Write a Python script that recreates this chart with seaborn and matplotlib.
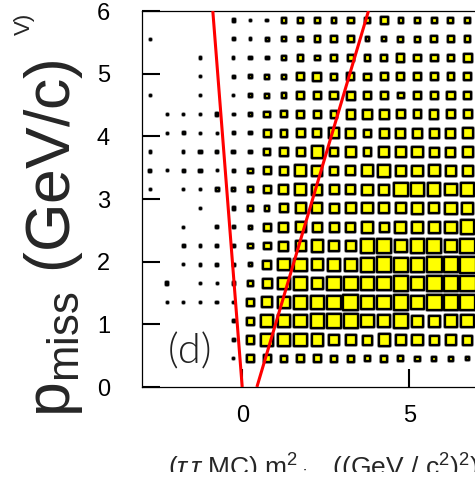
import matplotlib
matplotlib.use("Agg")
import matplotlib.pyplot as plt
from matplotlib.transforms import Bbox
import numpy as np
import pandas as pd
import seaborn as sns

# Bin centres of the 2-D histogram (m^2_miss in (GeV/c^2)^2, p_miss in GeV/c)
m2_centers = [-2.75, -2.25, -1.75, -1.25, -0.75, -0.25, 0.25, 0.75, 1.25, 1.75,
              2.25, 2.75, 3.25, 3.75, 4.25, 4.75, 5.25, 5.75, 6.25, 6.75]
p_centers = [5.85, 5.55, 5.25, 4.95, 4.65, 4.35, 4.05, 3.75, 3.45, 3.15,
             2.85, 2.55, 2.25, 1.95, 1.65, 1.35, 1.05, 0.75, 0.45]

# Bin contents, one row per p_miss bin (top to bottom), one column per m^2_miss bin
counts = [
    [0, 0, 0, 0, 4, 16, 12, 12, 36, 36, 36, 36, 49, 49, 64, 36, 42, 42, 42, 36],
    [9, 0, 0, 0, 4, 16, 12, 20, 36, 36, 49, 49, 49, 30, 30, 42, 42, 49, 49, 49],
    [0, 0, 0, 9, 0, 9, 20, 20, 36, 49, 36, 49, 49, 49, 56, 72, 64, 64, 64, 81],
    [0, 0, 0, 9, 6, 16, 20, 36, 36, 64, 81, 56, 64, 56, 64, 72, 72, 64, 64, 64],
    [9, 0, 0, 9, 0, 9, 20, 30, 36, 64, 64, 72, 81, 64, 64, 49, 64, 72, 72, 72],
    [0, 9, 9, 9, 16, 12, 20, 49, 56, 64, 64, 64, 90, 100, 100, 81, 81, 90, 81, 81],
    [0, 9, 16, 9, 9, 12, 16, 64, 64, 81, 81, 121, 100, 64, 100, 100, 100, 100, 100, 121],
    [9, 0, 9, 16, 16, 20, 20, 56, 81, 81, 144, 81, 121, 81, 121, 121, 121, 100, 100, 121],
    [16, 9, 16, 16, 9, 16, 36, 64, 81, 144, 121, 90, 100, 144, 169, 121, 121, 144, 121, 121],
    [9, 0, 9, 9, 20, 20, 42, 64, 100, 144, 121, 100, 100, 121, 121, 196, 196, 169, 144, 169],
    [0, 0, 0, 9, 0, 16, 36, 36, 81, 121, 121, 100, 121, 121, 121, 121, 144, 121, 144, 144],
    [0, 0, 9, 0, 12, 16, 20, 64, 100, 121, 100, 100, 100, 144, 100, 144, 144, 144, 144, 196],
    [0, 0, 12, 12, 12, 16, 36, 64, 100, 121, 144, 121, 121, 196, 196, 169, 196, 196, 169, 225],
    [0, 6, 9, 12, 12, 12, 25, 81, 144, 169, 144, 169, 169, 196, 225, 196, 196, 225, 225, 256],
    [0, 16, 0, 9, 9, 16, 49, 100, 144, 169, 144, 196, 196, 196, 196, 225, 196, 225, 225, 256],
    [0, 9, 9, 9, 12, 12, 64, 121, 144, 169, 169, 196, 225, 196, 196, 225, 196, 225, 225, 225],
    [0, 0, 0, 0, 0, 16, 64, 169, 169, 169, 196, 196, 196, 169, 169, 196, 144, 144, 169, 169],
    [0, 0, 0, 0, 0, 16, 81, 169, 144, 169, 144, 121, 121, 100, 144, 121, 121, 100, 121, 100],
    [0, 0, 0, 0, 0, 9, 64, 64, 56, 64, 64, 49, 49, 42, 49, 42, 36, 36, 36, 25],
]

# Selection cut lines (m^2_miss, p_miss) end points
cut_lo_m2 = [0.0, -0.88]
cut_lo_p = [0.0, 6.0]
cut_hi_m2 = [0.44, 3.78]
cut_hi_p = [0.0, 6.0]

x_ticks = [0, 5]
y_ticks = [0, 1, 2, 3, 4, 5, 6]

sns.set_style("ticks")
plt.rcParams["font.family"] = ["Liberation Sans", "DejaVu Sans"]
plt.rcParams["mathtext.fontset"] = "custom"
plt.rcParams["mathtext.rm"] = "Liberation Sans"
plt.rcParams["mathtext.it"] = "Liberation Sans:italic"

rows = []
for i, p in enumerate(p_centers):
    for j, m2 in enumerate(m2_centers):
        if counts[i][j] > 0:
            rows.append({"m2": m2, "p": p, "n": counts[i][j]})
df = pd.DataFrame(rows)

W, H = 475, 482
DPI = 100
fig = plt.figure(figsize=(W / DPI, H / DPI), dpi=DPI)
ax_left, ax_top, ax_bottom = 142, 11, 387
x_lo, x_hi = -3.0, 8.0
px_per_unit = 33.4
ax = fig.add_axes([ax_left / W, (H - ax_bottom) / H,
                   (x_hi - x_lo) * px_per_unit / W, (ax_bottom - ax_top) / H])

# Box histogram: the outer box side grows with sqrt(content) and the black
# frame sits inside it, so sparse bins end up as solid dots.
edge_px = 2.3
box_scale = 1.13  # outer side in pixels per sqrt(count)
pt_per_px = 72 / DPI
size_lookup = {}
for n in sorted(df["n"].unique()):
    inner = max(box_scale * np.sqrt(n) - edge_px, 0.15)
    size_lookup[n] = (inner * pt_per_px) ** 2

# faint grey rim around each box
sns.scatterplot(data=df, x="m2", y="p", size="n", sizes=size_lookup,
                marker="s", color="none", edgecolor="#9a9a9a",
                linewidth=(edge_px + 1.4) * pt_per_px, legend=False, ax=ax, zorder=2)
sns.scatterplot(data=df, x="m2", y="p", size="n", sizes=size_lookup,
                marker="s", color="#ffff00", edgecolor="black",
                linewidth=edge_px * pt_per_px, legend=False, ax=ax, zorder=3)

ax.plot(cut_lo_m2, cut_lo_p, color="#ff0000", lw=2.2, zorder=5, solid_capstyle="butt")
ax.plot(cut_hi_m2, cut_hi_p, color="#ff0000", lw=2.2, zorder=5, solid_capstyle="butt")

ax.set_xlim(x_lo, x_hi)
ax.set_ylim(0, 6)
ax.set_xticks(x_ticks)
ax.set_yticks(y_ticks)
ax.set_xlabel("")
ax.set_ylabel("")
for s in ax.spines.values():
    s.set_linewidth(0.9)
    s.set_color("black")
ax.tick_params(axis="both", direction="in", length=13, width=1.5, labelsize=17,
               colors="black")
ax.tick_params(axis="x", pad=13)
ax.tick_params(axis="y", pad=23)

ax.text(-1.56, 0.56, "(d)", fontsize=30, color="#222222", ha="center", va="center",
        family=["Lato", "DejaVu Sans"], fontweight=300, zorder=6)

fig.text(70 / W, (H - 417) / H, r"p$_{\mathrm{miss}}$ (GeV/c)", fontsize=45,
         rotation=90, rotation_mode="anchor", ha="left", va="baseline")
fig.text(30 / W, (H - 13) / H, "V)", fontsize=16, rotation=90,
         rotation_mode="anchor", ha="right", va="baseline")
xl = fig.text(479 / W, (H - 477) / H,
              r"($\tau\,\tau$ MC) m$^{2}_{\mathrm{miss}}$ ((GeV / c$^{2}$)$^{2}$)",
              fontsize=19, ha="right", va="baseline")
# the label's lower part lies under the canvas edge
xl.set_clip_box(Bbox.from_extents(0, H - 472, W, H))
xl.set_clip_on(True)

fig.savefig("out.png", dpi=DPI)
